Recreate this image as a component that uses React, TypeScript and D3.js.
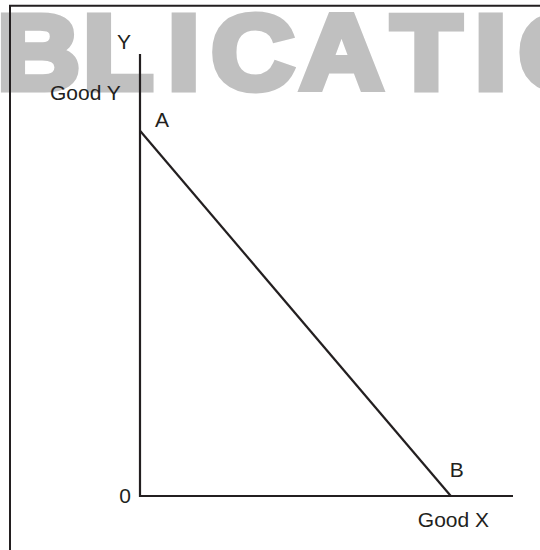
import React from "react";
import * as d3 from "d3";

// Endpoints of the straight frontier between the two goods
const frontierLabels = ["A", "B"];
const goodXValues = [0, 10];
const goodYValues = [10, 0];

// Axis extents (in units of each good)
const xAxisMax = 12;
const yAxisMax = 12.1;

// Axis captions
const originLabel = "0";
const yAxisTitle = "Y";
const yAxisCaption = "Good Y";
const xAxisCaption = "Good X";

// Background stamp letters
const stampLetters = ["B", "L", "I", "C", "A", "T", "I", "O"];
const stampLetterX = [-2.7, 76.9, 155.3, 195.7, 277.8, 362.2, 439.6, 480.1];

const W = 540;
const H = 550;
const ink = "#231f20";
const font = "'Liberation Sans', Arial, Helvetica, sans-serif";

export default function App() {
  const x = d3.scaleLinear().domain([0, xAxisMax]).range([140, 513]);
  const y = d3.scaleLinear().domain([0, yAxisMax]).range([496, 54]);

  const pts = frontierLabels.map((label, i) => ({
    label,
    gx: goodXValues[i],
    gy: goodYValues[i],
  }));

  const line = d3
    .line<{ gx: number; gy: number }>()
    .x((d) => x(d.gx))
    .y((d) => y(d.gy));

  const axisPath = d3.path();
  axisPath.moveTo(x(0), y(yAxisMax));
  axisPath.lineTo(x(0), y(0));
  axisPath.lineTo(x(xAxisMax), y(0));

  const a = pts[0];
  const b = pts[1];

  return (
    <svg
      width={W}
      height={H}
      viewBox={`0 0 ${W} ${H}`}
      style={{ position: "absolute", left: 0, top: 0, background: "#fff" }}
    >
      <rect width={W} height={H} fill="#fff" />
      {/* grey stamp lettering */}
      <text
        transform="scale(1.08,1)"
        y={89}
        fontFamily={font}
        fontWeight="bold"
        fontSize={106.5}
        fill="#c0c0c0"
        stroke="#c0c0c0"
        strokeWidth={7}
        strokeLinejoin="miter"
        x={stampLetterX.join(" ")}
      >
        {stampLetters.join("")}
      </text>

      {/* page frame */}
      <path
        d={`M9,5.7 H${W} M10,5 V${H}`}
        fill="none"
        stroke={ink}
        strokeWidth={2}
      />

      {/* axes */}
      <path d={axisPath.toString()} fill="none" stroke={ink} strokeWidth={2.2} />

      {/* frontier */}
      <path d={line(pts) || ""} fill="none" stroke={ink} strokeWidth={2.2} />

      <g fontFamily={font} fontSize={21} fill={ink}>
        <text x={x(0) - 23} y={y(yAxisMax) - 5}>
          {yAxisTitle}
        </text>
        <text x={x(0) - 90} y={100}>
          {yAxisCaption}
        </text>
        <text x={x(a.gx) + 15} y={y(a.gy) - 4}>
          {a.label}
        </text>
        <text x={x(b.gx) - 1} y={y(b.gy) - 19}>
          {b.label}
        </text>
        <text x={x(0) - 9} y={y(0) + 7} textAnchor="end">
          {originLabel}
        </text>
        <text x={x(b.gx) - 33} y={y(0) + 31}>
          {xAxisCaption}
        </text>
      </g>
    </svg>
  );
}
